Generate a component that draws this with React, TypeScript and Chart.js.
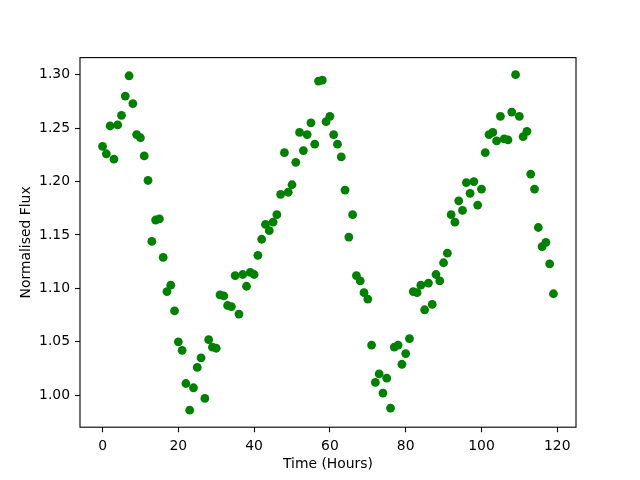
import React, { useEffect, useRef } from "react";
import { Chart, registerables } from "chart.js";

Chart.register(...registerables);

const hours = [
  0, 1, 2, 3, 4, 5, 6, 7, 8, 9,
  10, 11, 12, 13, 14, 15, 16, 17, 18, 19,
  20, 21, 22, 23, 24, 25, 26, 27, 28, 29,
  30, 31, 32, 33, 34, 35, 36, 37, 38, 39,
  40, 41, 42, 43, 44, 45, 46, 47, 48, 49,
  50, 51, 52, 53, 54, 55, 56, 57, 58, 59,
  60, 61, 62, 63, 64, 65, 66, 67, 68, 69,
  70, 71, 72, 73, 74, 75, 76, 77, 78, 79,
  80, 81, 82, 83, 84, 85, 86, 87, 88, 89,
  90, 91, 92, 93, 94, 95, 96, 97, 98, 99,
  100, 101, 102, 103, 104, 105, 106, 107, 108, 109,
  110, 111, 112, 113, 114, 115, 116, 117, 118, 119,
];

const flux = [
  1.233, 1.226, 1.252, 1.221, 1.253, 1.262, 1.28, 1.299, 1.273, 1.244,
  1.241, 1.224, 1.201, 1.144, 1.164, 1.165, 1.129, 1.097, 1.103, 1.079,
  1.05, 1.042, 1.011, 0.986, 1.007, 1.026, 1.035, 0.997, 1.052, 1.045,
  1.044, 1.094, 1.093, 1.084, 1.083, 1.112, 1.076, 1.113, 1.102, 1.115,
  1.113, 1.131, 1.146, 1.16, 1.154, 1.162, 1.169, 1.188, 1.227, 1.19,
  1.197, 1.218, 1.246, 1.229, 1.244, 1.255, 1.235, 1.294, 1.295, 1.256,
  1.261, 1.244, 1.235, 1.223, 1.192, 1.148, 1.169, 1.112, 1.107, 1.096,
  1.09, 1.047, 1.012, 1.02, 1.002, 1.016, 0.988, 1.045, 1.047, 1.029,
  1.039, 1.053, 1.097, 1.096, 1.103, 1.08, 1.105, 1.085, 1.113, 1.107,
  1.124, 1.133, 1.169, 1.162, 1.182, 1.173, 1.199, 1.189, 1.2, 1.178,
  1.193, 1.227, 1.244, 1.246, 1.238, 1.261, 1.24, 1.239, 1.265, 1.3,
  1.261, 1.242, 1.247, 1.207, 1.193, 1.157, 1.139, 1.143, 1.123, 1.095,
];

const xTicks = [0, 20, 40, 60, 80, 100, 120];
const yTicks = [1.0, 1.05, 1.1, 1.15, 1.2, 1.25, 1.3];

const xLabel = "Time (Hours)";
const yLabel = "Normalised Flux";

const FONT = "'DejaVu Sans', sans-serif";

const framePlugin = {
  id: "frame",
  afterDraw(chart: any) {
    const { ctx, chartArea } = chart;
    const { left, top, right, bottom } = chartArea;
    ctx.save();
    ctx.strokeStyle = "#000";
    ctx.lineWidth = 1.1;
    ctx.strokeRect(left, top, right - left, bottom - top);
    ctx.restore();
  },
};

export default function App() {
  const ref = useRef<HTMLCanvasElement | null>(null);

  useEffect(() => {
    if (!ref.current) return;
    const chart = new Chart(ref.current, {
      type: "scatter",
      data: {
        datasets: [
          {
            data: hours.map((h, i) => ({ x: h, y: flux[i] })),
            backgroundColor: "#008000",
            borderColor: "#008000",
            borderWidth: 0,
            pointRadius: 4.4,
            pointHoverRadius: 4.4,
          },
        ],
      },
      options: {
        responsive: false,
        animation: false,
        events: [],
        layout: { padding: { top: 57.6, right: 64, left: 0, bottom: 0 } },
        plugins: { legend: { display: false }, tooltip: { enabled: false } },
        scales: {
          x: {
            type: "linear",
            min: -5.95,
            max: 124.95,
            afterBuildTicks: (scale: any) => {
              scale.ticks = xTicks.map((v) => ({ value: v }));
            },
            afterFit: (scale: any) => {
              scale.height = 52.8;
            },
            border: { display: false },
            grid: {
              display: true,
              drawOnChartArea: false,
              drawTicks: true,
              tickLength: 5,
              tickColor: "#000",
              tickWidth: 1.1,
            },
            ticks: {
              color: "#000",
              padding: 6,
              maxRotation: 0,
              font: { family: FONT, size: 13.9 },
              callback: (v: any) => String(v),
            },
            title: {
              display: true,
              text: xLabel,
              color: "#000",
              font: { family: FONT, size: 13.9 },
              padding: { top: 0, bottom: 7 },
            },
          },
          y: {
            type: "linear",
            min: 0.9701,
            max: 1.316,
            afterBuildTicks: (scale: any) => {
              scale.ticks = yTicks.map((v) => ({ value: v }));
            },
            afterFit: (scale: any) => {
              scale.width = 80;
            },
            border: { display: false },
            grid: {
              display: true,
              drawOnChartArea: false,
              drawTicks: true,
              tickLength: 5,
              tickColor: "#000",
              tickWidth: 1.1,
            },
            ticks: {
              color: "#000",
              padding: 5,
              font: { family: FONT, size: 13.9 },
              callback: (v: any) => Number(v).toFixed(2),
            },
            title: {
              display: true,
              text: yLabel,
              color: "#000",
              font: { family: FONT, size: 13.9 },
              padding: { top: 18, bottom: 0 },
            },
          },
        },
      },
      plugins: [framePlugin],
    });
    return () => chart.destroy();
  }, []);

  return (
    <div style={{ position: "absolute", left: 0, top: 0, width: 640, height: 480, background: "#fff" }}>
      <canvas ref={ref} width={640} height={480} style={{ display: "block" }} />
    </div>
  );
}
